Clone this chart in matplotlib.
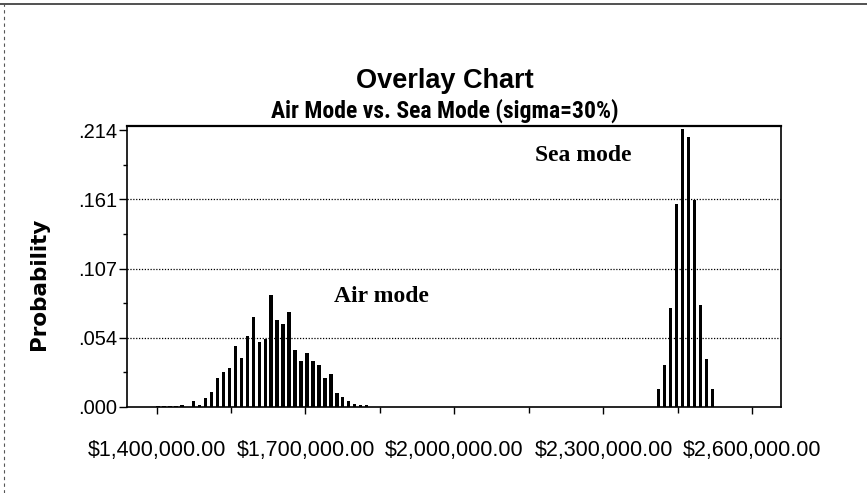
import numpy as np
import matplotlib
matplotlib.use("Agg")
import matplotlib.pyplot as plt
from matplotlib import font_manager
from matplotlib.ticker import FixedLocator, FixedFormatter
from matplotlib.lines import Line2D

# ---- data ----
bin_width = 12000
air_first_center = 1403000
air_prob = [0.0004, 0.0004, 0.0005, 0.0006, 0.0019, 0.0003, 0.0047, 0.0018,
            0.0070, 0.0113, 0.0224, 0.0268, 0.0299, 0.0471, 0.0376, 0.0546,
            0.0693, 0.0500, 0.0523, 0.0865, 0.0669, 0.0644, 0.0734, 0.0440,
            0.0358, 0.0420, 0.0358, 0.0327, 0.0224, 0.0252, 0.0111, 0.0078,
            0.0047, 0.0026, 0.0018, 0.0018]
sea_first_center = 2411000
sea_prob = [0.0137, 0.0327, 0.0765, 0.1570, 0.2146, 0.2087, 0.1600, 0.0790,
            0.0373, 0.0137]

x_major = [1400000, 1700000, 2000000, 2300000, 2600000]
x_minor = [1550000, 1850000, 2150000, 2450000]
x_labels = ["$1,400,000.00", "$1,700,000.00", "$2,000,000.00",
            "$2,300,000.00", "$2,600,000.00"]
y_major = [0.0, 0.0535, 0.107, 0.1605, 0.214]
y_labels = [".000", ".054", ".107", ".161", ".214"]
y_minor = [0.02675, 0.08025, 0.13375, 0.18725]

title1 = "Overlay Chart"
title2 = "Air Mode vs. Sea Mode (sigma=30%)"

air_x = air_first_center + bin_width * np.arange(len(air_prob))
sea_x = sea_first_center + bin_width * np.arange(len(sea_prob))

# pick a narrow sans if one is installed
installed = {f.name for f in font_manager.fontManager.ttflist}
narrow = None
for cand in ["Liberation Sans Narrow", "Arial Narrow", "Roboto Condensed",
             "DejaVu Sans Condensed", "Open Sans Condensed"]:
    if cand in installed:
        narrow = cand
        break

# ---- figure ----
fig = plt.figure(figsize=(8.67, 4.93), dpi=100)
ax = fig.add_axes([127/867, 1-407/493, (781-127)/867, (407-126)/493])

ax.bar(air_x, air_prob, width=7000, color="black", linewidth=0, zorder=3)
ax.bar(sea_x, sea_prob, width=7000, color="black", linewidth=0, zorder=3)

ax.set_xlim(1340600, 2657400)
ax.set_ylim(0, 0.2171)

ax.xaxis.set_major_locator(FixedLocator(x_major))
ax.xaxis.set_major_formatter(FixedFormatter(x_labels))
ax.xaxis.set_minor_locator(FixedLocator(x_minor))
ax.yaxis.set_major_locator(FixedLocator(y_major))
ax.yaxis.set_major_formatter(FixedFormatter(y_labels))
ax.yaxis.set_minor_locator(FixedLocator(y_minor))

ax.tick_params(axis="x", which="major", direction="out", length=5, width=1,
               pad=19, labelsize=15.5, colors="black")
ax.tick_params(axis="x", which="minor", direction="out", length=4, width=1)
ax.tick_params(axis="y", which="major", direction="out", length=6, width=1,
               pad=1, labelsize=14.5)
ax.tick_params(axis="y", which="minor", direction="out", length=3, width=1)

for lab in ax.get_xticklabels() + ax.get_yticklabels():
    lab.set_fontfamily("Liberation Sans")

for v in y_major[1:4]:
    ax.axhline(v, color="black", lw=0.9, linestyle=(0, (1, 1.3)), zorder=1)

for s in ax.spines.values():
    s.set_linewidth(1.2)
    s.set_color("black")
ax.spines["top"].set_linewidth(1.6)

fig.text(381/867, 1-297/493, "Air mode", family="Liberation Serif",
         weight="bold", fontsize=17, ha="center", va="center")
fig.text(583/867, 1-156/493, "Sea mode", family="Liberation Serif",
         weight="bold", fontsize=17, ha="center", va="center")

fig.text(445/867, 1-81/493, title1, family="Liberation Sans", weight="bold",
         fontsize=19.5, ha="center", va="center")
if narrow is not None:
    fig.text(445/867, 1-111/493, title2, family=narrow, weight="bold",
             fontsize=17, ha="center", va="center")
else:
    fig.text(445/867, 1-111/493, title2, family="Liberation Sans",
             weight="bold", fontsize=15, ha="center", va="center")
fig.text(39/867, 1-284/493, "Probability", family="DejaVu Sans",
         weight="bold", fontsize=15.5, rotation=90, ha="center", va="center")

# page border remnants
fig.add_artist(Line2D([0, 1], [1-4/493, 1-4/493], transform=fig.transFigure,
                      color="#333333", lw=1.2))
fig.add_artist(Line2D([4/867, 4/867], [0, 1-4/493], transform=fig.transFigure,
                      color="#555555", lw=0.8, linestyle=(0, (3, 3))))

fig.savefig("out.png", dpi=100)
